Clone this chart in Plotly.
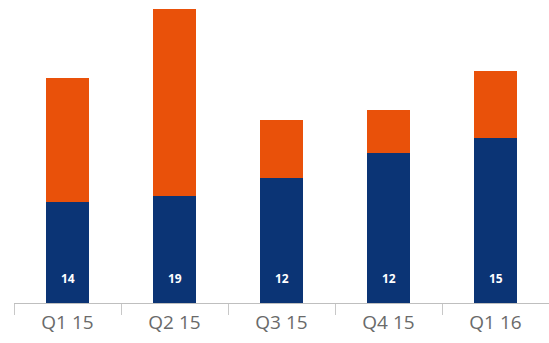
import plotly.graph_objects as go

# Quarterly stacked values
quarters = ["Q1 15", "Q2 15", "Q3 15", "Q4 15", "Q1 16"]
base_values = [202, 214, 250, 300, 330]
top_values = [248, 374, 116, 86, 134]
# Figures printed at the foot of each base bar
counts = [14, 19, 12, 12, 15]

BLUE = "#0b3475"
ORANGE = "#e9510a"

fig = go.Figure()
fig.add_trace(go.Bar(x=quarters, y=base_values, marker=dict(color=BLUE, line=dict(width=0)),
                     hoverinfo="skip"))
fig.add_trace(go.Bar(x=quarters, y=top_values, marker=dict(color=ORANGE, line=dict(width=0)),
                     hoverinfo="skip"))

for q, c in zip(quarters, counts):
    fig.add_annotation(x=q, y=0, text=f"<b>{c}</b>", showarrow=False,
                       yanchor="bottom", yshift=14,
                       font=dict(family="Open Sans", size=12, color="white"))

fig.update_layout(
    barmode="stack",
    bargap=0.6,
    width=549, height=343,
    margin=dict(l=14, r=0, t=0, b=40),
    paper_bgcolor="white", plot_bgcolor="white",
    showlegend=False,
    xaxis=dict(showline=True, linecolor="#bfbfbf", linewidth=1,
               ticks="outside", tickson="boundaries", ticklen=11, tickcolor="#c8c8c8",
               ticklabelstandoff=2,
               tickfont=dict(family="Open Sans", size=19, color="#6a6a6a"),
               showgrid=False, fixedrange=True),
    yaxis=dict(range=[0, 606], visible=False, showgrid=False, fixedrange=True),
)

fig.write_html("out.html")
